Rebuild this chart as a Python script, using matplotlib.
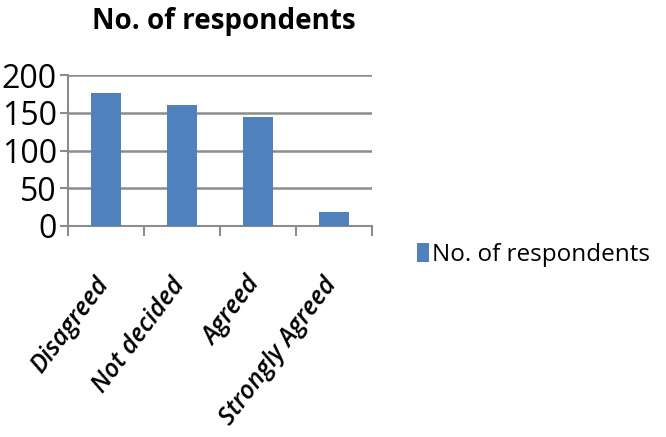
import matplotlib.pyplot as plt

categories = ['Disagreed', 'Not decided', 'Agreed', 'Strongly Agreed']
respondents = [176, 160, 144, 18]
yticks = [0, 50, 100, 150, 200]

plt.rcParams['font.family'] = ['Open Sans', 'DejaVu Sans']

fig = plt.figure(figsize=(6.66, 4.37), dpi=100)
ax = fig.add_axes([68 / 666, 1 - 226 / 437, (372 - 68) / 666, (226 - 75) / 437])

bars = ax.bar(range(len(categories)), respondents, width=0.4, color='#4F81BD',
              label='No. of respondents', zorder=3)

ax.set_xlim(-0.5, len(categories) - 0.5)
ax.set_ylim(0, 200)
ax.set_yticks(yticks)
ax.set_yticklabels([str(v) for v in yticks], fontsize=23)
ax.yaxis.grid(True, color='#8c8c8c', linewidth=1.8, zorder=0)

# category boundary ticks on x axis
ax.set_xticks([i - 0.5 for i in range(len(categories) + 1)])
ax.set_xticklabels([])
ax.tick_params(axis='x', length=7, width=1.5, color='#8c8c8c')
ax.tick_params(axis='y', length=6, width=1.5, color='#8c8c8c', pad=2)
for i, c in enumerate(categories):
    ax.text(i - 0.16, -62, c, rotation=53, ha='right', va='top', rotation_mode='anchor',
            fontsize=18, style='italic', fontweight='semibold')

for s in ['top', 'right']:
    ax.spines[s].set_visible(False)
for s in ['left', 'bottom']:
    ax.spines[s].set_color('#8c8c8c')
    ax.spines[s].set_linewidth(1.5)

fig.text(224 / 666, 1 - 22 / 437, 'No. of respondents', ha='center', va='center',
         fontsize=20, fontweight='bold')

fig.legend(loc='center left', bbox_to_anchor=(402 / 666, 1 - 255 / 437), frameon=False,
           fontsize=17.5, handlelength=0.5, handleheight=0.8, handletextpad=0.15,
           borderaxespad=0.2)

fig.savefig('out.png', dpi=100)
